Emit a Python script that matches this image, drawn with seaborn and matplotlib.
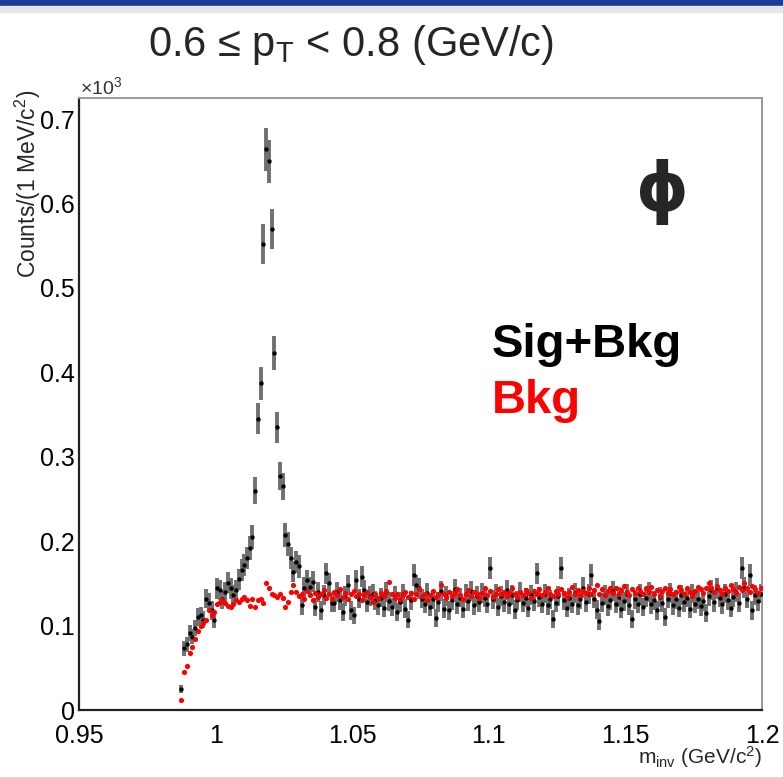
import numpy as np
import pandas as pd
import matplotlib
matplotlib.use("Agg")
import matplotlib.pyplot as plt
import seaborn as sns
from matplotlib.ticker import MultipleLocator, FixedLocator

# ---------------- data (counts x10^3 per 1 MeV bin) ----------------
mass_start = 0.987      # lower edge of first filled bin (GeV/c^2)
bin_width = 0.001       # 1 MeV bins

sig_bkg = [
    0.025, 0.073, 0.078, 0.091, 0.087, 0.097, 0.110, 0.112, 0.107, 0.132,
    0.127, 0.118, 0.107, 0.144, 0.142, 0.131, 0.140, 0.151, 0.144, 0.136,
    0.142, 0.155, 0.166, 0.172, 0.180, 0.192, 0.205, 0.260, 0.345, 0.387,
    0.552, 0.664, 0.650, 0.570, 0.423, 0.335, 0.277, 0.265, 0.207, 0.197,
    0.180, 0.164, 0.175, 0.170, 0.124, 0.145, 0.154, 0.146, 0.152, 0.122,
    0.140, 0.118, 0.136, 0.162, 0.150, 0.127, 0.127, 0.140, 0.130, 0.116,
    0.135, 0.148, 0.118, 0.112, 0.154, 0.132, 0.158, 0.142, 0.128, 0.135,
    0.138, 0.130, 0.124, 0.133, 0.121, 0.140, 0.129, 0.122, 0.135, 0.116,
    0.128, 0.137, 0.120, 0.107, 0.130, 0.160, 0.148, 0.144, 0.132, 0.126,
    0.139, 0.122, 0.131, 0.109, 0.128, 0.141, 0.120, 0.135, 0.118, 0.130,
    0.143, 0.125, 0.133, 0.120, 0.138, 0.129, 0.141, 0.124, 0.135, 0.128,
    0.139, 0.133, 0.126, 0.168, 0.131, 0.138, 0.122, 0.135, 0.128, 0.142,
    0.125, 0.136, 0.119, 0.130, 0.140, 0.127, 0.133, 0.121, 0.136, 0.129,
    0.162, 0.134, 0.126, 0.138, 0.124, 0.131, 0.108, 0.127, 0.135, 0.168,
    0.130, 0.121, 0.133, 0.126, 0.139, 0.124, 0.131, 0.145, 0.128, 0.137,
    0.160, 0.132, 0.119, 0.105, 0.127, 0.136, 0.123, 0.130, 0.141, 0.126,
    0.134, 0.120, 0.129, 0.138, 0.124, 0.108, 0.131, 0.126, 0.137, 0.122,
    0.133, 0.140, 0.125, 0.130, 0.118, 0.134, 0.127, 0.110, 0.132, 0.139,
    0.124, 0.131, 0.121, 0.136, 0.128, 0.133, 0.120, 0.138, 0.126, 0.131,
    0.123, 0.129, 0.115, 0.135, 0.142, 0.128, 0.144, 0.133, 0.125, 0.138,
    0.130, 0.121, 0.134, 0.140, 0.127, 0.168, 0.145, 0.132, 0.160, 0.118,
    0.136, 0.129, 0.138,
]

bkg = [
    0.012, 0.045, 0.052, 0.068, 0.075, 0.084, 0.093, 0.099, 0.103, 0.107,
    0.118, 0.112, 0.116, 0.126, 0.128, 0.130, 0.127, 0.123, 0.122, 0.126,
    0.130, 0.128, 0.132, 0.134, 0.130, 0.123, 0.132, 0.122, 0.130, 0.132,
    0.127, 0.150, 0.144, 0.138, 0.136, 0.134, 0.138, 0.133, 0.122, 0.128,
    0.140, 0.148, 0.140, 0.135, 0.138, 0.132, 0.141, 0.136, 0.130, 0.139,
    0.134, 0.137, 0.142, 0.133, 0.138, 0.131, 0.140, 0.136, 0.143, 0.134,
    0.139, 0.132, 0.137, 0.141, 0.135, 0.138, 0.130, 0.136, 0.140, 0.134,
    0.128, 0.137, 0.133, 0.139, 0.135, 0.141, 0.152, 0.137, 0.133, 0.138,
    0.131, 0.136, 0.140, 0.134, 0.139, 0.132, 0.137, 0.143, 0.135, 0.138,
    0.130, 0.136, 0.141, 0.134, 0.138, 0.148, 0.137, 0.133, 0.140, 0.135,
    0.139, 0.143, 0.136, 0.131, 0.138, 0.142, 0.135, 0.140, 0.137, 0.133,
    0.139, 0.144, 0.136, 0.141, 0.134, 0.138, 0.143, 0.137, 0.140, 0.135,
    0.139, 0.145, 0.138, 0.134, 0.140, 0.136, 0.142, 0.139, 0.133, 0.141,
    0.137, 0.143, 0.136, 0.140, 0.145, 0.138, 0.135, 0.141, 0.137, 0.143,
    0.139, 0.134, 0.140, 0.146, 0.138, 0.142, 0.136, 0.141, 0.139, 0.144,
    0.137, 0.142, 0.148, 0.138, 0.143, 0.136, 0.141, 0.145, 0.139, 0.144,
    0.137, 0.142, 0.147, 0.140, 0.136, 0.143, 0.139, 0.145, 0.141, 0.137,
    0.144, 0.140, 0.146, 0.138, 0.142, 0.135, 0.141, 0.145, 0.139, 0.143,
    0.137, 0.140, 0.146, 0.142, 0.138, 0.144, 0.140, 0.135, 0.141, 0.146,
    0.143, 0.139, 0.145, 0.150, 0.144, 0.140, 0.147, 0.142, 0.138, 0.145,
    0.141, 0.148, 0.143, 0.139, 0.146, 0.142, 0.150, 0.144, 0.140, 0.147,
    0.143, 0.139, 0.145,
]

x_ticks = [0.95, 1.0, 1.05, 1.1, 1.15, 1.2]
x_tick_labels = ["0.95", "1", "1.05", "1.1", "1.15", "1.2"]
y_ticks = [0.0, 0.1, 0.2, 0.3, 0.4, 0.5, 0.6, 0.7]
y_tick_labels = ["0", "0.1", "0.2", "0.3", "0.4", "0.5", "0.6", "0.7"]

# bin centres of the histogram
centers = mass_start + bin_width * (np.arange(len(sig_bkg)) + 0.5)
df = pd.DataFrame({"m": centers, "sb": sig_bkg, "bkg": bkg})
df["err"] = np.sqrt(df["sb"] * 1000.0) / 1000.0   # Poisson errors

# ---------------- style ----------------
sns.set_theme(style="white")
plt.rcParams["font.family"] = ["Liberation Sans", "DejaVu Sans"]
plt.rcParams["mathtext.fontset"] = "custom"
plt.rcParams["mathtext.rm"] = "Liberation Sans"
plt.rcParams["mathtext.it"] = "Liberation Sans:italic"
plt.rcParams["mathtext.bf"] = "Liberation Sans:bold"

W, H = 783, 777
fig = plt.figure(figsize=(W / 100, H / 100), dpi=100)
fig.patch.set_facecolor("white")

# slide header band
fig.add_artist(plt.Rectangle((0, 1 - 6 / H), 1, 6 / H, transform=fig.transFigure,
                             color="#1c3c9c", zorder=0))
fig.add_artist(plt.Rectangle((0, 1 - 12 / H), 1, 6 / H, transform=fig.transFigure,
                             color="#e6e6e6", zorder=0))

L, R, B, T = 79, 762, 710, 98
ax = fig.add_axes([L / W, (H - B) / H, (R - L) / W, (B - T) / H])

# error bars (gray) + black points
ax.errorbar(df["m"], df["sb"], yerr=df["err"], fmt="none", ecolor="#707070",
            elinewidth=2.8, capsize=0, zorder=2)
sns.scatterplot(data=df, x="m", y="sb", ax=ax, color="black", s=10,
                marker="o", linewidth=0, zorder=3, legend=False)
sns.scatterplot(data=df, x="m", y="bkg", ax=ax, color="#ff0000", s=14,
                marker="o", linewidth=0, zorder=4, legend=False)

ax.set_xlim(0.95, 1.2)
ax.set_ylim(0, 0.725)
ax.set_xlabel("")
ax.set_ylabel("")

ax.xaxis.set_major_locator(FixedLocator(x_ticks))
ax.set_xticklabels(x_tick_labels)
ax.xaxis.set_minor_locator(MultipleLocator(0.01))
ax.yaxis.set_major_locator(FixedLocator(y_ticks))
ax.set_yticklabels(y_tick_labels)
ax.yaxis.set_minor_locator(MultipleLocator(0.02))

ax.tick_params(axis="both", which="both", direction="in", colors="#333333",
               labelcolor="black", labelsize=18, top=False, right=False)
ax.tick_params(axis="both", which="major", length=13, width=1.2)
ax.tick_params(axis="both", which="minor", length=6.5, width=1.2)
ax.tick_params(axis="x", which="major", pad=10)
ax.tick_params(axis="y", which="major", pad=3)

for side in ["left", "bottom"]:
    ax.spines[side].set_color("#222222")
    ax.spines[side].set_linewidth(1.6)
for side in ["top", "right"]:
    ax.spines[side].set_color("#999999")
    ax.spines[side].set_linewidth(1.4)

# ---------------- text ----------------
fig.text(351 / W, 1 - 45 / H, "0.6 ≤ p$_{\\mathrm{T}}$ < 0.8 (GeV/c)",
         ha="center", va="center", fontsize=30)
fig.text(80 / W, 1 - 87 / H, r"$\times$10$^{3}$", ha="left", va="center",
         fontsize=14, color="#333333")
fig.text(28 / W, 1 - 90 / H, r"Counts/(1 MeV/c$^{2}$)", rotation=90,
         ha="center", va="top", fontsize=16.5)
fig.text(R / W, 1 - 757 / H, r"m$_{\mathrm{inv}}$ (GeV/c$^{2}$)",
         ha="right", va="center", fontsize=15)

fig.text(662 / W, 1 - 192 / H, "ϕ", ha="center", va="center", fontsize=48,
         fontweight="bold", family=["DejaVu Sans"])
fig.text(492 / W, 1 - 345 / H, "Sig+Bkg", ha="left", va="center",
         fontsize=34, fontweight="bold", color="black")
fig.text(492 / W, 1 - 401 / H, "Bkg", ha="left", va="center",
         fontsize=34, fontweight="bold", color="#ff0000")

fig.savefig("out.png", dpi=100)
